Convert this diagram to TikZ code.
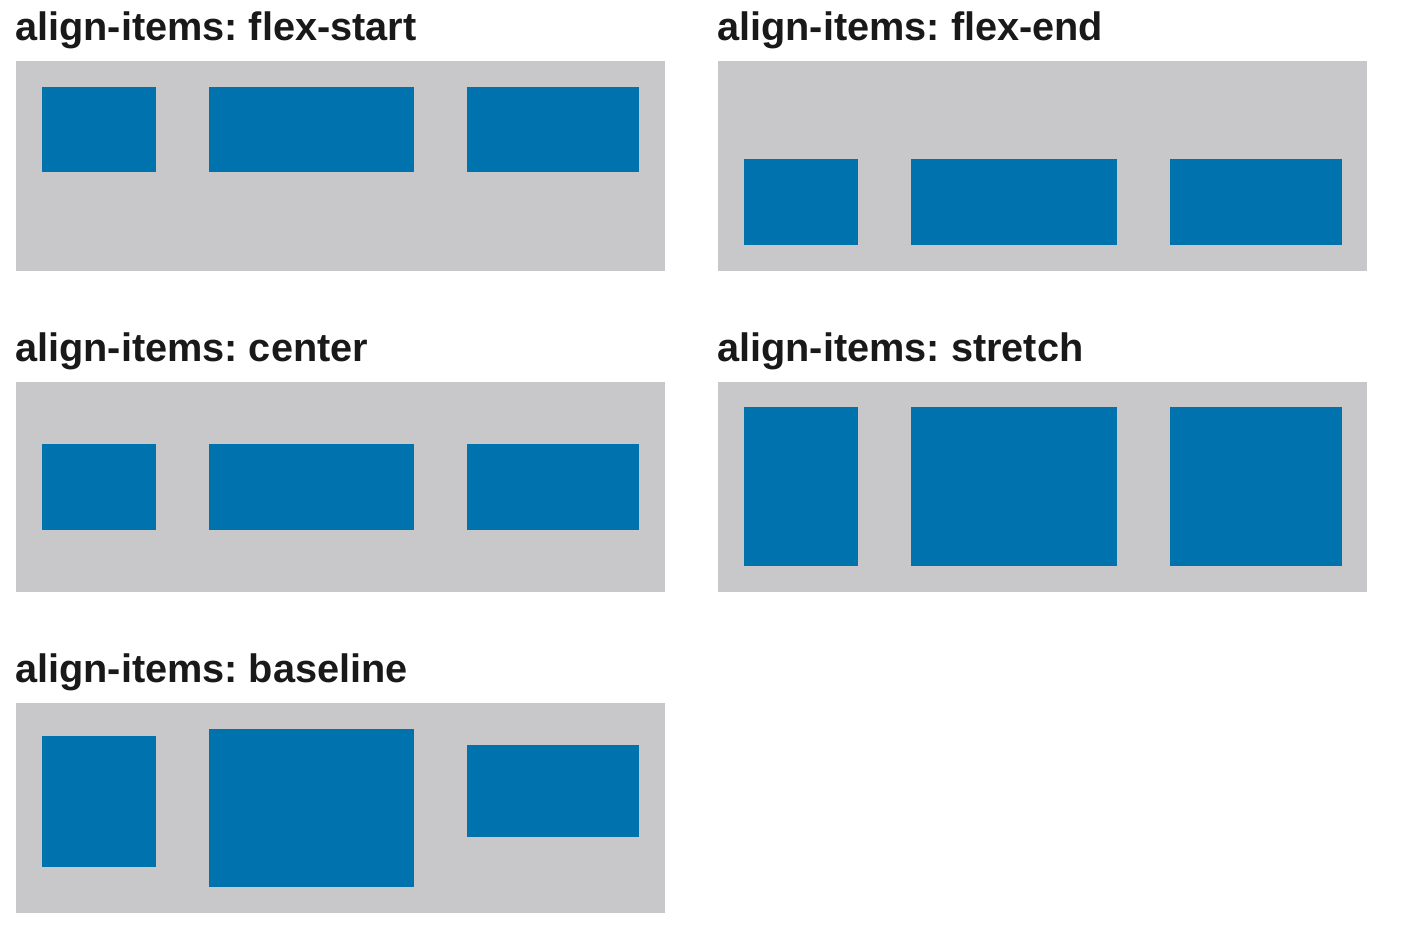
\documentclass[tikz,border=0pt]{standalone}
\usepackage{fontspec}
\setmainfont{Liberation Sans}
\definecolor{panelgrey}{HTML}{C8C8CA}
\definecolor{itemblue}{HTML}{0073AE}
\begin{document}
\frenchspacing
\begin{tikzpicture}[x=1pt,y=-1pt,
  panel/.style={fill=panelgrey, draw=none, inner sep=0pt, outer sep=0pt, anchor=north west, minimum width=649pt, minimum height=210pt},
  item/.style={fill=itemblue, draw=none, inner sep=0pt, outer sep=0pt, anchor=north west},
  title/.style={anchor=base west, inner sep=0pt, font=\fontsize{39.7}{44}\selectfont\bfseries\frenchspacing, text=black!90}]
\useasboundingbox (0,0) rectangle (1420,938);
% flex-start
\node[title] (t1) at (15,40) {align-items: flex-start};
\node[panel] (p1) at (16,61) {};
\node[item, minimum width=114pt, minimum height=85pt] (a1) at (42,87) {};
\node[item, minimum width=205pt, minimum height=85pt] (a2) at (209,87) {};
\node[item, minimum width=172pt, minimum height=85pt] (a3) at (467,87) {};
% flex-end
\node[title] (t2) at (717,40) {align-items: flex-end};
\node[panel] (p2) at (718,61) {};
\node[item, minimum width=114pt, minimum height=86pt] (b1) at (744,159) {};
\node[item, minimum width=206pt, minimum height=86pt] (b2) at (911,159) {};
\node[item, minimum width=172pt, minimum height=86pt] (b3) at (1170,159) {};
% center
\node[title] (t3) at (15,361) {align-items: center};
\node[panel] (p3) at (16,382) {};
\node[item, minimum width=114pt, minimum height=86pt] (c1) at (42,444) {};
\node[item, minimum width=205pt, minimum height=86pt] (c2) at (209,444) {};
\node[item, minimum width=172pt, minimum height=86pt] (c3) at (467,444) {};
% stretch
\node[title] (t4) at (717,361) {align-items: stretch};
\node[panel] (p4) at (718,382) {};
\node[item, minimum width=114pt, minimum height=159pt] (d1) at (744,407) {};
\node[item, minimum width=206pt, minimum height=159pt] (d2) at (911,407) {};
\node[item, minimum width=172pt, minimum height=159pt] (d3) at (1170,407) {};
% baseline
\node[title] (t5) at (15,682) {align-items: baseline};
\node[panel] (p5) at (16,703) {};
\node[item, minimum width=114pt, minimum height=131pt] (e1) at (42,736) {};
\node[item, minimum width=205pt, minimum height=158pt] (e2) at (209,729) {};
\node[item, minimum width=172pt, minimum height=92pt] (e3) at (467,745) {};
\end{tikzpicture}
\end{document}
